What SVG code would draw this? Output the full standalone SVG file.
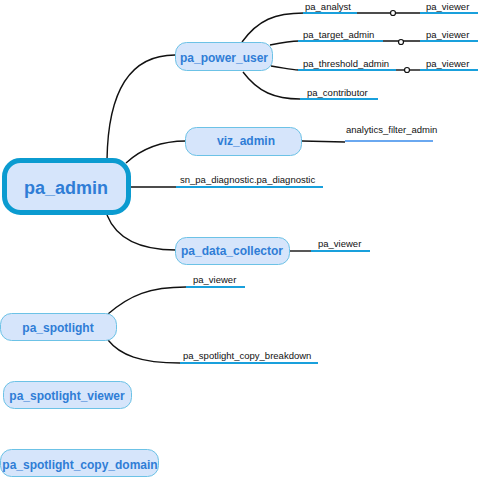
<svg xmlns="http://www.w3.org/2000/svg" width="485" height="478" viewBox="0 0 485 478">
<style>
.node rect{fill:#d6e5fb;stroke:#6cc2e6;stroke-width:1}
.nt{font-family:"Liberation Sans",Arial,sans-serif;font-weight:bold;fill:#2f7dd6;text-anchor:middle;font-size:12px}
.lt{font-family:"Liberation Sans",Arial,sans-serif;fill:#111;font-size:9.5px}
.ul{stroke:#19a0dc;stroke-width:2;fill:none}
.c{stroke:#111;stroke-width:1.4;fill:none}
.dot{fill:#fff;stroke:#111;stroke-width:1.2}
</style>
<rect width="485" height="478" fill="#fff"/>
<g id="connectors">
<path class="c" d="M107,160 C108,90 130,55 175,55"/>
<path class="c" d="M126,163 C140,150 160,141 186,141"/>
<path class="c" d="M130,187 L176,187" stroke="#555"/>
<path class="c" d="M107,215 C115,235 135,250 176,250"/>
<path class="c" d="M242,42 C258,20 275,13 304,13"/>
<path class="c" d="M270,45 C285,42 290,41 299,41"/>
<path class="c" d="M271,66 C285,68 290,70 299,70"/>
<path class="c" d="M243,72 C258,92 275,99 300,99"/>
<path class="c" d="M357,13 L420,13"/>
<circle class="dot" cx="393" cy="13" r="2.5"/>
<path class="c" d="M383,41 L420,41"/>
<circle class="dot" cx="401" cy="42" r="2.5"/>
<path class="c" d="M396,70 L420,70"/>
<circle class="dot" cx="407" cy="70" r="2.5"/>
<path class="c" d="M302,141 L345,142"/>
<path class="c" d="M290,251 L311,251" stroke="#555"/>
<path class="c" d="M108,314 C130,295 150,287 186,287"/>
<path class="c" d="M108,340 C120,355 140,363 180,363"/>
</g>
<g id="pa_admin" class="node">
<rect x="4.5" y="160.5" width="124" height="52" rx="16" style="stroke:#0b9bd0;stroke-width:5"/>
<text class="nt" x="66" y="194" style="font-size:18px">pa_admin</text>
</g>
<g id="pa_power_user" class="node">
<rect x="175.5" y="42.5" width="97" height="28" rx="11"/>
<text class="nt" x="224" y="62">pa_power_user</text>
</g>
<g id="viz_admin" class="node">
<rect x="185.5" y="127.5" width="116" height="28" rx="11"/>
<text class="nt" x="246" y="145">viz_admin</text>
</g>
<g id="pa_data_collector" class="node">
<rect x="175.5" y="237.5" width="114" height="27" rx="11"/>
<text class="nt" x="232" y="255">pa_data_collector</text>
</g>
<g id="pa_spotlight" class="node">
<rect x="0.5" y="313.5" width="116" height="27" rx="11"/>
<text class="nt" x="58" y="332">pa_spotlight</text>
</g>
<g id="pa_spotlight_viewer" class="node">
<rect x="3.5" y="381.5" width="128" height="27" rx="11"/>
<text class="nt" x="67" y="400">pa_spotlight_viewer</text>
</g>
<g id="pa_spotlight_copy_domain" class="node">
<rect x="0.5" y="449.5" width="158" height="27" rx="11"/>
<text class="nt" x="80" y="469">pa_spotlight_copy_domain</text>
</g>
<g id="pa_analyst"><path class="ul" d="M303,13 H357"/><text class="lt" x="305" y="10">pa_analyst</text></g>
<g id="pa_viewer_1"><path class="ul" d="M420,13 H478"/><text class="lt" x="426" y="10">pa_viewer</text></g>
<g id="pa_target_admin"><path class="ul" d="M298,41 H383"/><text class="lt" x="303" y="38">pa_target_admin</text></g>
<g id="pa_viewer_2"><path class="ul" d="M420,41 H478"/><text class="lt" x="426" y="38">pa_viewer</text></g>
<g id="pa_threshold_admin"><path class="ul" d="M298,70 H396"/><text class="lt" x="303" y="67">pa_threshold_admin</text></g>
<g id="pa_viewer_3"><path class="ul" d="M420,70 H478"/><text class="lt" x="426" y="67">pa_viewer</text></g>
<g id="pa_contributor"><path class="ul" d="M300,99 H378"/><text class="lt" x="307" y="96">pa_contributor</text></g>
<g id="analytics_filter_admin"><path class="ul" d="M345,141 H433" style="stroke:#6aa8f0"/><text class="lt" x="346" y="133">analytics_filter_admin</text></g>
<g id="sn_pa_diagnostic"><path class="ul" d="M176,187 H323"/><text class="lt" x="180" y="183">sn_pa_diagnostic.pa_diagnostic</text></g>
<g id="pa_viewer_4"><path class="ul" d="M311,251 H370"/><text class="lt" x="318" y="247">pa_viewer</text></g>
<g id="pa_viewer_5"><path class="ul" d="M186,287 H245"/><text class="lt" x="193" y="283">pa_viewer</text></g>
<g id="pa_spotlight_copy_breakdown"><path class="ul" d="M180,363 H318"/><text class="lt" x="183" y="359">pa_spotlight_copy_breakdown</text></g>
</svg>
